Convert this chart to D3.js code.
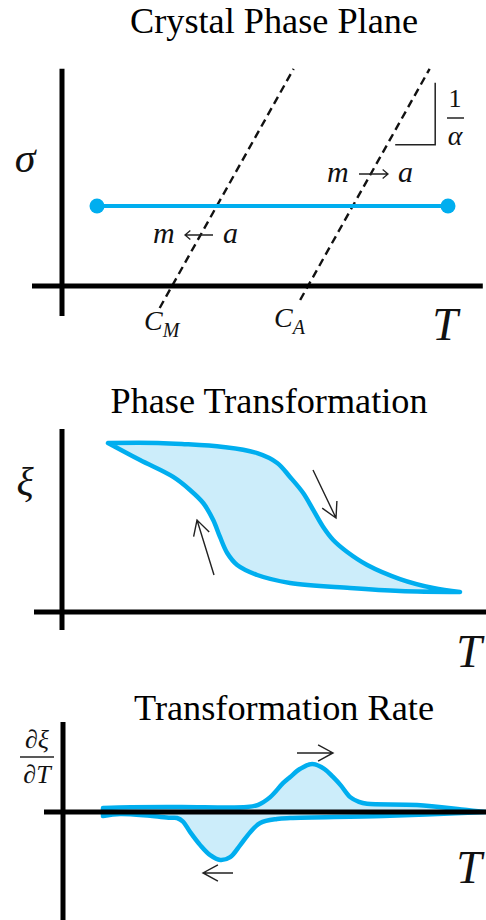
<!DOCTYPE html>
<html>
<head>
<meta charset="utf-8">
<script src="https://cdn.jsdelivr.net/npm/d3@7"></script>
<style>
  html, body { margin: 0; padding: 0; background: #fff; }
  svg { display: block; }
  .title { font-family: "Liberation Serif", "DejaVu Serif", serif; font-size: 35px; fill: #000; }
  .math { font-family: "Liberation Serif", "DejaVu Serif", serif; font-style: italic; fill: #111; }
  .upright { font-family: "Liberation Serif", "DejaVu Serif", serif; fill: #111; }
</style>
</head>
<body>
<script>
// ---- Crystal phase plane ----
const transitionNames = ["M", "A"];            // martensite start / austenite start
const transitionT = [2.75, 6.15];              // C_M, C_A on the temperature axis
const transitionSigmaLow = [-0.55, -0.35];     // lower ends of the dashed boundaries
const transitionSigmaHigh = 5.43;              // upper end of the dashed boundaries
const inverseSlope = 0.56;                     // dT per unit stress (alpha)
const loadSigma = 2.0;                         // constant stress path
const loadT = [0.875, 9.65];                   // temperature sweep end points

// ---- Phase transformation (martensite fraction vs temperature) ----
const heatT  = [1.15, 2.4, 3.0, 4.03, 4.88, 5.38, 5.7, 6.03, 6.28, 6.53, 6.78, 7.13, 7.63, 8.45, 9.28, 9.95];
const heatXi = [1.0, 1.0, 0.994, 0.976, 0.94, 0.882, 0.799, 0.704, 0.604, 0.503, 0.426, 0.355, 0.278, 0.195, 0.142, 0.118];
const coolT  = [1.15, 1.95, 2.78, 3.2, 3.53, 3.78, 3.95, 4.13, 4.38, 4.88, 5.7, 7.2, 8.45, 9.95];
const coolXi = [1.0, 0.899, 0.799, 0.722, 0.645, 0.544, 0.444, 0.349, 0.278, 0.219, 0.172, 0.142, 0.124, 0.118];

// ---- Transformation rate ----
const rateHeatT = [1.0, 1.7, 2.95, 4.6, 4.88, 5.18, 5.5, 5.68, 5.93, 6.23, 6.53, 6.75, 6.95, 7.18, 7.4, 7.6, 8.85, 10.1, 10.58];
const rateHeatV = [0.083, 0.10, 0.104, 0.104, 0.15, 0.31, 0.6, 0.73, 0.9, 1.0, 0.9, 0.73, 0.55, 0.31, 0.21, 0.17, 0.146, 0.04, 0.0];
const rateCoolT = [1.0, 1.43, 2.18, 2.68, 2.85, 3.0, 3.18, 3.43, 3.68, 3.93, 4.18, 4.43, 4.68, 4.93, 5.35, 5.68, 8.0, 10.58];
const rateCoolV = [-0.083, -0.04, -0.08, -0.12, -0.125, -0.2, -0.42, -0.69, -0.9, -1.0, -0.94, -0.69, -0.42, -0.23, -0.146, -0.125, -0.083, 0.0];

const BLUE = "#00aeef";
const FILL = "#ccedfa";
const INK = "#222";

const svg = d3.select("body").append("svg").attr("width", 486).attr("height", 920);

function axisLines(g, x, y, xExt, yExt, xOrig, yOrig) {
  g.append("line").attr("x1", x(xExt[0])).attr("x2", x(xExt[1]))
    .attr("y1", y(yOrig)).attr("y2", y(yOrig))
    .attr("stroke", "#000").attr("stroke-width", 5);
  g.append("line").attr("x1", x(xOrig)).attr("x2", x(xOrig))
    .attr("y1", y(yExt[0])).attr("y2", y(yExt[1]))
    .attr("stroke", "#000").attr("stroke-width", 5);
}

function arrow(g, p0, p1, L = 17, w = 0.5, sw = 1.4) {
  const dx = p1[0] - p0[0], dy = p1[1] - p0[1];
  const a = Math.atan2(dy, dx);
  const h1 = [p1[0] - L * Math.cos(a - w), p1[1] - L * Math.sin(a - w)];
  const h2 = [p1[0] - L * Math.cos(a + w), p1[1] - L * Math.sin(a + w)];
  g.append("path")
    .attr("d", `M${p0[0]},${p0[1]}L${p1[0]},${p1[1]}M${h1[0]},${h1[1]}L${p1[0]},${p1[1]}L${h2[0]},${h2[1]}`)
    .attr("fill", "none").attr("stroke", INK).attr("stroke-width", sw);
}

function title(text, cx, y, len) {
  svg.append("text").attr("class", "title").attr("x", cx).attr("y", y)
    .attr("text-anchor", "middle").attr("textLength", len)
    .attr("lengthAdjust", "spacingAndGlyphs").text(text);
}

// "m -> a" style label: two italic letters joined by a short drawn arrow
function transformLabel(g, xm, xa, yb, dir) {
  g.append("text").attr("class", "math").attr("x", xm).attr("y", yb)
    .style("font-size", "30px").text("m");
  g.append("text").attr("class", "math").attr("x", xa).attr("y", yb)
    .style("font-size", "30px").text("a");
  const ax0 = xm + 32, ax1 = xa - 10, ay = yb - 8;
  const p0 = dir > 0 ? [ax0, ay] : [ax1, ay];
  const p1 = dir > 0 ? [ax1, ay] : [ax0, ay];
  arrow(g, p0, p1, 7, 0.7, 1.3);
}

// ================= Panel 1 =================
{
  const x = d3.scaleLinear().domain([0, 10.6]).range([62, 486]);
  const y = d3.scaleLinear().domain([0, 5]).range([286, 86]);
  const g = svg.append("g");
  title("Crystal Phase Plane", 274, 33, 288);

  // phase boundaries: T = C + alpha * sigma
  transitionT.forEach((c, i) => {
    const s0 = transitionSigmaLow[i], s1 = transitionSigmaHigh;
    g.append("line")
      .attr("x1", x(c + inverseSlope * s0)).attr("y1", y(s0))
      .attr("x2", x(c + inverseSlope * s1)).attr("y2", y(s1))
      .attr("stroke", "#111").attr("stroke-width", 2.4)
      .attr("stroke-dasharray", "8,5");
  });

  axisLines(g, x, y, [-0.75, 10.52], [-0.75, 5.43], 0, 0);

  // slope triangle
  g.append("path")
    .attr("d", `M${x(8.33)},${y(3.53)}H${x(9.33)}V${y(5.08)}`)
    .attr("fill", "none").attr("stroke", INK).attr("stroke-width", 1.5);
  g.append("text").attr("class", "upright").attr("x", 455).attr("y", 107)
    .attr("text-anchor", "middle").style("font-size", "26px").text("1");
  g.append("line").attr("x1", 447).attr("x2", 464).attr("y1", 118).attr("y2", 118)
    .attr("stroke", INK).attr("stroke-width", 1.5);
  g.append("text").attr("class", "math").attr("x", 455).attr("y", 145)
    .attr("text-anchor", "middle").style("font-size", "28px").text("α");

  // loading path at constant stress
  g.append("line")
    .attr("x1", x(loadT[0])).attr("x2", x(loadT[1]))
    .attr("y1", y(loadSigma)).attr("y2", y(loadSigma))
    .attr("stroke", BLUE).attr("stroke-width", 4);
  g.selectAll("circle.end").data(loadT).join("circle")
    .attr("cx", d => x(d)).attr("cy", y(loadSigma)).attr("r", 7.5).attr("fill", BLUE);

  transformLabel(g, 327, 398, 182, 1);
  transformLabel(g, 153, 223, 243, -1);

  g.append("text").attr("class", "math").attr("x", 25).attr("y", 172)
    .attr("text-anchor", "middle").style("font-size", "42px").text("σ");

  // transition temperature labels
  const lab = [[144, 330], [274, 327]];
  transitionNames.forEach((n, i) => {
    const t = g.append("text").attr("class", "math").attr("x", lab[i][0]).attr("y", lab[i][1])
      .style("font-size", "28px");
    t.append("tspan").text("C");
    t.append("tspan").attr("dy", 7).style("font-size", "20px").text(n);
  });
  g.append("text").attr("class", "math").attr("x", 445).attr("y", 340)
    .attr("text-anchor", "middle").style("font-size", "46px").text("T");
}

// ================= Panel 2 =================
{
  const x = d3.scaleLinear().domain([0, 10.6]).range([62, 486]);
  const y = d3.scaleLinear().domain([0, 1]).range([612, 443]);
  const g = svg.append("g");
  title("Phase Transformation", 269, 413, 317);

  const heat = heatT.map((t, i) => [x(t), y(heatXi[i])]);
  const cool = coolT.map((t, i) => [x(t), y(coolXi[i])]);
  const line = d3.line().curve(d3.curveCatmullRom.alpha(0.5));
  const loop = line(heat) + "L" + line(cool.slice().reverse()).slice(1) + "Z";
  g.append("path").attr("d", loop).attr("fill", FILL)
    .attr("stroke", BLUE).attr("stroke-width", 4.5).attr("stroke-linejoin", "round");

  axisLines(g, x, y, [-0.7, 10.6], [-0.107, 1.083], 0, 0);

  arrow(g, [x(6.275), y(0.84)], [x(6.85), y(0.556)]);
  arrow(g, [x(3.8), y(0.219)], [x(3.375), y(0.544)]);

  g.append("text").attr("class", "math").attr("x", 25).attr("y", 495)
    .attr("text-anchor", "middle").style("font-size", "40px").text("ξ");
  g.append("text").attr("class", "math").attr("x", 469).attr("y", 667)
    .attr("text-anchor", "middle").style("font-size", "46px").text("T");
}

// ================= Panel 3 =================
{
  const x = d3.scaleLinear().domain([0, 10.6]).range([63, 487]);
  const y = d3.scaleLinear().domain([-1, 1]).range([860, 764]);
  const g = svg.append("g");
  title("Transformation Rate", 284, 720, 300);

  const up = rateHeatT.map((t, i) => [x(t), y(rateHeatV[i])]);
  const dn = rateCoolT.map((t, i) => [x(t), y(rateCoolV[i])]);
  const line = d3.line().curve(d3.curveCatmullRom.alpha(0.5));
  const shape = line(up) + "L" + line(dn.slice().reverse()).slice(1) + "Z";
  g.append("path").attr("d", shape).attr("fill", FILL)
    .attr("stroke", BLUE).attr("stroke-width", 4.5).attr("stroke-linejoin", "round");

  axisLines(g, x, y, [-0.475, 10.6], [-2.25, 1.875], 0, 0);

  arrow(g, [x(5.85), y(1.23)], [x(6.75), y(1.23)]);
  arrow(g, [x(4.25), y(-1.27)], [x(3.5), y(-1.27)]);

  g.append("text").attr("class", "math").attr("x", 37).attr("y", 748)
    .attr("text-anchor", "middle").style("font-size", "26px").text("∂ξ");
  g.append("line").attr("x1", 20).attr("x2", 54).attr("y1", 757).attr("y2", 757)
    .attr("stroke", INK).attr("stroke-width", 1.5);
  g.append("text").attr("class", "math").attr("x", 37).attr("y", 783)
    .attr("text-anchor", "middle").style("font-size", "26px").text("∂T");
  g.append("text").attr("class", "math").attr("x", 469).attr("y", 883)
    .attr("text-anchor", "middle").style("font-size", "46px").text("T");
}
</script>
</body>
</html>
